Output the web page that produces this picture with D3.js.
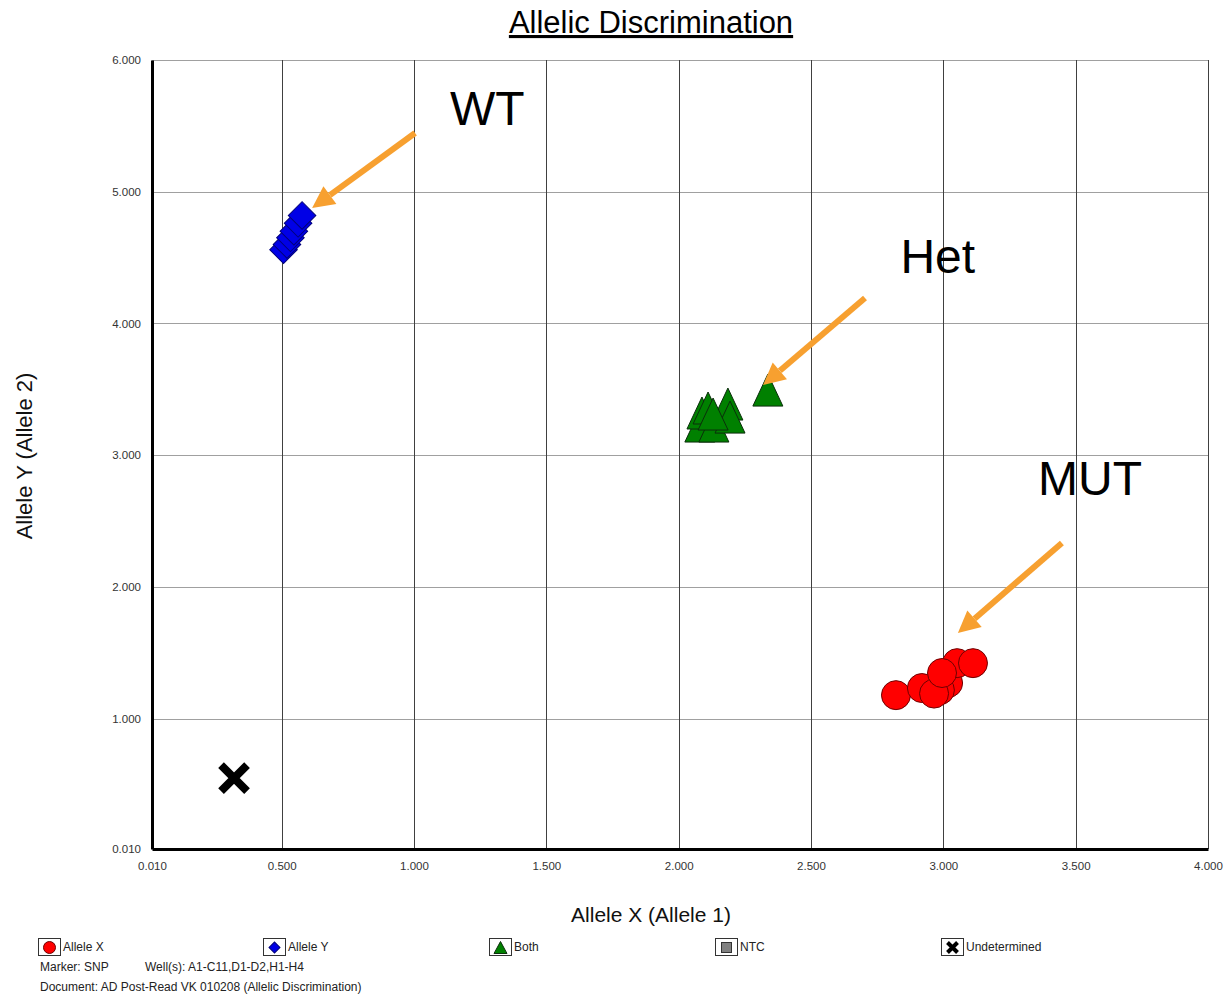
<!DOCTYPE html>
<html>
<head>
<meta charset="utf-8">
<script src="https://cdn.jsdelivr.net/npm/d3@7"></script>
<style>
  html, body { margin: 0; padding: 0; background: #fff; }
  svg { display: block; font-family: "Liberation Sans", Arial, sans-serif; }
</style>
</head>
<body>
<svg id="chart" width="1226" height="998"></svg>
<script>
// Tick values on both axes
const xTicks = [0.01, 0.5, 1.0, 1.5, 2.0, 2.5, 3.0, 3.5, 4.0];
const yTicks = [0.01, 1.0, 2.0, 3.0, 4.0, 5.0, 6.0];

// Allele Y calls (blue diamonds)
const alleleYx = [0.507, 0.520, 0.533, 0.546, 0.562, 0.577];
const alleleYy = [4.560, 4.600, 4.650, 4.700, 4.760, 4.820];

// Heterozygous calls (green triangles)
const bothX = [2.080, 2.133, 2.088, 2.186, 2.194, 2.111, 2.130, 2.337];
const bothY = [3.221, 3.221, 3.320, 3.388, 3.289, 3.358, 3.312, 3.494];

// Allele X calls (red circles)
const alleleXx = [2.821, 2.919, 3.018, 2.987, 2.965, 3.052, 3.112, 2.995];
const alleleXy = [1.178, 1.232, 1.270, 1.216, 1.190, 1.421, 1.421, 1.346];

// Undetermined well
const undetX = [0.320];
const undetY = [0.548];

// Cluster labels and their arrows (data units)
const noteText = ["WT", "Het", "MUT"];
const noteX = [1.136, 2.838, 3.358];
const noteY = [5.506, 4.383, 2.697];
const arrowX1 = [1.004, 2.704, 3.448];
const arrowY1 = [5.446, 4.193, 2.333];
const arrowX2 = [0.615, 2.319, 3.055];
const arrowY2 = [4.876, 3.532, 1.649];

// Legend entries
const legendNames = ["Allele X", "Allele Y", "Both", "NTC", "Undetermined"];

const svg = d3.select("#chart");
const plotLeft = 152, plotRight = 1208, plotTop = 60, plotBottom = 849;

const x = d3.scaleLinear().domain([0.01, 4.0]).range([plotLeft, plotRight]);
const y = d3.scaleLinear().domain([0.01, 6.0]).range([plotBottom, plotTop]);
const fmt = d3.format(".3f");

// Title
svg.append("text")
  .attr("x", 651).attr("y", 33)
  .attr("text-anchor", "middle")
  .attr("font-size", 31)
  .attr("text-decoration", "underline")
  .attr("fill", "#000")
  .text("Allelic Discrimination");

// Horizontal grid lines
svg.append("g").selectAll("line").data(yTicks.filter(d => d > 0.01)).join("line")
  .attr("x1", plotLeft).attr("x2", plotRight)
  .attr("y1", d => Math.round(y(d)) + 0.5).attr("y2", d => Math.round(y(d)) + 0.5)
  .attr("stroke", "#a0a0a0").attr("stroke-width", 1);

// Vertical grid lines
svg.append("g").selectAll("line").data(xTicks.filter(d => d > 0.01)).join("line")
  .attr("x1", d => Math.round(x(d)) + 0.5).attr("x2", d => Math.round(x(d)) + 0.5)
  .attr("y1", plotTop).attr("y2", plotBottom)
  .attr("stroke", "#404040").attr("stroke-width", 1);

// Axes
const xAxis = svg.append("g").attr("transform", `translate(0,${plotBottom})`)
  .call(d3.axisBottom(x).tickValues(xTicks).tickFormat(fmt).tickSize(0).tickPadding(13));
const yAxis = svg.append("g").attr("transform", `translate(${plotLeft},0)`)
  .call(d3.axisLeft(y).tickValues(yTicks).tickFormat(fmt).tickSize(0).tickPadding(11));
[xAxis, yAxis].forEach(a => {
  a.select(".domain").attr("stroke", "#000").attr("stroke-width", 3);
  a.selectAll("text").attr("font-size", 11.5).attr("fill", "#333")
    .attr("font-family", "'Liberation Sans', Arial, sans-serif");
});

// Axis titles
svg.append("text")
  .attr("x", 651).attr("y", 922)
  .attr("text-anchor", "middle").attr("font-size", 21).attr("fill", "#111")
  .text("Allele X (Allele 1)");
svg.append("text")
  .attr("transform", "translate(32,456) rotate(-90)")
  .attr("text-anchor", "middle").attr("font-size", 22).attr("fill", "#111")
  .text("Allele Y (Allele 2)");

const plot = svg.append("g");

// Blue diamonds
plot.append("g").selectAll("path").data(d3.zip(alleleYx, alleleYy)).join("path")
  .attr("transform", d => `translate(${x(d[0])},${y(d[1])}) rotate(45)`)
  .attr("d", d3.symbol().type(d3.symbolSquare).size(380)())
  .attr("fill", "#0000e6").attr("stroke", "#00007a").attr("stroke-width", 1);

// Green triangles
const tri = (w, h) => `M0,${-h / 2}L${w / 2},${h / 2}L${-w / 2},${h / 2}Z`;
plot.append("g").selectAll("path").data(d3.zip(bothX, bothY)).join("path")
  .attr("transform", d => `translate(${x(d[0])},${y(d[1])})`)
  .attr("d", tri(30, 32))
  .attr("fill", "#008000").attr("stroke", "#0b2e0b").attr("stroke-width", 1);

// Red circles
plot.append("g").selectAll("circle").data(d3.zip(alleleXx, alleleXy)).join("circle")
  .attr("cx", d => x(d[0])).attr("cy", d => y(d[1])).attr("r", 14.5)
  .attr("fill", "#ff0000").attr("stroke", "#6e0000").attr("stroke-width", 1);

// Undetermined cross
plot.append("g").selectAll("path").data(d3.zip(undetX, undetY)).join("path")
  .attr("transform", d => `translate(${x(d[0])},${y(d[1])})`)
  .attr("d", "M-13,-13L13,13M13,-13L-13,13")
  .attr("stroke", "#000").attr("stroke-width", 8).attr("fill", "none");

// Annotation arrows
const orange = "#f7a030";
const arrows = svg.append("g");
d3.range(noteText.length).forEach(i => {
  const x1 = x(arrowX1[i]), y1 = y(arrowY1[i]);
  const x2 = x(arrowX2[i]), y2 = y(arrowY2[i]);
  const ang = Math.atan2(y2 - y1, x2 - x1);
  const headLen = 22, headW = 11;
  const bx = x2 - headLen * Math.cos(ang), by = y2 - headLen * Math.sin(ang);
  arrows.append("line")
    .attr("x1", x1).attr("y1", y1).attr("x2", bx).attr("y2", by)
    .attr("stroke", orange).attr("stroke-width", 6);
  const px = -Math.sin(ang), py = Math.cos(ang);
  arrows.append("path")
    .attr("d", `M${x2},${y2}L${bx + px * headW},${by + py * headW}L${bx - px * headW},${by - py * headW}Z`)
    .attr("fill", orange);
  arrows.append("text")
    .attr("x", x(noteX[i])).attr("y", y(noteY[i]))
    .attr("font-size", 48).attr("fill", "#000")
    .text(noteText[i]);
});

// Legend
const legend = svg.append("g");
const legendLeft = [38, 263, 489, 715, 941];
legendNames.forEach((name, i) => {
  const g = legend.append("g").attr("transform", `translate(${legendLeft[i]},938)`);
  g.append("rect").attr("x", 0.5).attr("y", 0.5).attr("width", 22).attr("height", 17)
    .attr("fill", "#fff").attr("stroke", "#333").attr("stroke-width", 1);
  const cx = 11.5, cy = 9.5;
  if (i === 0) {
    g.append("circle").attr("cx", cx).attr("cy", cy).attr("r", 6)
      .attr("fill", "#ff0000").attr("stroke", "#6e0000");
  } else if (i === 1) {
    g.append("path").attr("transform", `translate(${cx},${cy}) rotate(45)`)
      .attr("d", d3.symbol().type(d3.symbolSquare).size(60)())
      .attr("fill", "#0000e6").attr("stroke", "#00007a");
  } else if (i === 2) {
    g.append("path").attr("transform", `translate(${cx},${cy})`)
      .attr("d", tri(13, 12)).attr("fill", "#008000").attr("stroke", "#0b2e0b");
  } else if (i === 3) {
    g.append("rect").attr("x", cx - 5).attr("y", cy - 5).attr("width", 10).attr("height", 10)
      .attr("fill", "#808080").attr("stroke", "#333");
  } else {
    g.append("path").attr("transform", `translate(${cx},${cy})`)
      .attr("d", "M-5,-5L5,5M5,-5L-5,5")
      .attr("stroke", "#000").attr("stroke-width", 4);
  }
  g.append("text").attr("x", 25).attr("y", 13)
    .attr("font-size", 12).attr("fill", "#222").text(name);
});

svg.append("text").attr("x", 40).attr("y", 971).attr("font-size", 12).attr("fill", "#222")
  .text("Marker: SNP");
svg.append("text").attr("x", 145).attr("y", 971).attr("font-size", 12).attr("fill", "#222")
  .text("Well(s): A1-C11,D1-D2,H1-H4");
svg.append("text").attr("x", 40).attr("y", 991).attr("font-size", 12).attr("fill", "#222")
  .text("Document: AD Post-Read VK 010208 (Allelic Discrimination)");
</script>
</body>
</html>
